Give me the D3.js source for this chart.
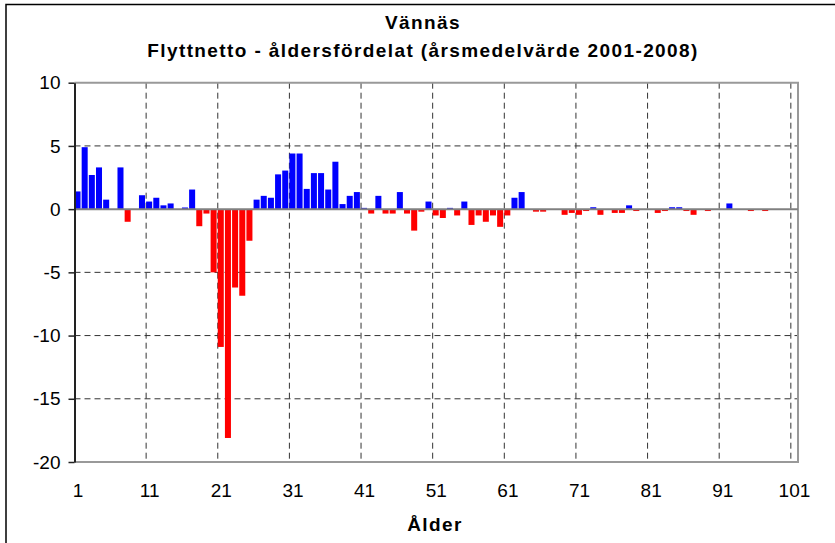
<!DOCTYPE html>
<html>
<head>
<meta charset="utf-8">
<script src="https://cdn.jsdelivr.net/npm/d3@7"></script>
<style>
  html, body { margin: 0; padding: 0; background: #fff; }
  svg { display: block; font-family: "Liberation Sans", Arial, sans-serif; }
</style>
</head>
<body>
<svg id="chart" width="835" height="543"></svg>
<script>
// ---- data ----
const titleLines = ["Vännäs", "Flyttnetto - åldersfördelat (årsmedelvärde 2001-2008)"];
const xTitle = "Ålder";
const ages = [1,2,3,4,5,6,7,8,9,10,11,12,13,14,15,16,17,18,19,20,
  21,22,23,24,25,26,27,28,29,30,31,32,33,34,35,36,37,38,39,40,
  41,42,43,44,45,46,47,48,49,50,51,52,53,54,55,56,57,58,59,60,
  61,62,63,64,65,66,67,68,69,70,71,72,73,74,75,76,77,78,79,80,
  81,82,83,84,85,86,87,88,89,90,91,92,93,94,95,96,97,98,99,100,101];
const netMigration = [1.4,4.9,2.7,3.3,0.75,0,3.3,-1.0,0,1.1,
  0.6,0.9,0.3,0.45,0,0.13,1.55,-1.35,-0.35,-5.0,
  -10.9,-18.1,-6.2,-6.85,-2.5,0.75,1.05,0.9,2.75,3.05,
  4.4,4.4,1.6,2.85,2.85,1.55,3.75,0.4,1.05,1.35,
  0.1,-0.35,1.05,-0.35,-0.35,1.35,-0.35,-1.7,-0.2,0.6,
  -0.5,-0.7,0.1,-0.5,0.6,-1.25,-0.5,-1.0,-0.5,-1.4,
  -0.5,0.9,1.35,0,-0.2,-0.2,0,0,-0.45,-0.3,
  -0.45,-0.15,0.15,-0.45,0,-0.3,-0.3,0.3,-0.15,0,
  0,-0.3,-0.15,0.15,0.15,-0.15,-0.45,0,-0.15,0,
  0,0.45,0,0,-0.15,0,-0.15,0,0,0,0];
const xTickAges = [1,11,21,31,41,51,61,71,81,91,101];
const gridAges = [11,21,31,41,51,61,71,81,91,101];
const yTicks = [-20,-15,-10,-5,0,5,10];
const yGrid = [-15,-10,-5,5];

// ---- layout ----
const plot = { left: 74.5, right: 798, top: 82.7, bottom: 462 };
const FONT = "'Liberation Sans', Arial, sans-serif";
const svg = d3.select("#chart");

// outer chart border
svg.append("rect")
  .attr("x", 6).attr("y", 4.5).attr("width", 840).attr("height", 560)
  .attr("fill", "none").attr("stroke", "#000").attr("stroke-width", 1.5);

const x = d3.scaleBand().domain(ages).range([plot.left, plot.right]).padding(0);
const y = d3.scaleLinear().domain([-20, 10]).range([plot.bottom, plot.top]);
const barW = x.bandwidth() * 0.84;

// gridlines
const g = svg.append("g");
g.selectAll("line.hg").data(yGrid).join("line")
  .attr("x1", plot.left).attr("x2", plot.right)
  .attr("y1", d => y(d)).attr("y2", d => y(d))
  .attr("stroke", "#333").attr("stroke-width", 1).attr("stroke-dasharray", "6,4");
g.selectAll("line.vg").data(gridAges).join("line")
  .attr("x1", d => x(d)).attr("x2", d => x(d))
  .attr("y1", plot.top).attr("y2", plot.bottom)
  .attr("stroke", "#333").attr("stroke-width", 1).attr("stroke-dasharray", "6,4");

// plot border (top, right, bottom)
svg.append("path")
  .attr("d", `M${plot.left},${plot.top}H${plot.right}V${plot.bottom}H${plot.left}`)
  .attr("fill", "none").attr("stroke", "#999").attr("stroke-width", 2);

// bars
svg.append("g").selectAll("rect").data(ages.map((a, i) => ({ a, v: netMigration[i] })).filter(d => d.v !== 0))
  .join("rect")
  .attr("x", d => x(d.a))
  .attr("width", barW)
  .attr("y", d => y(Math.max(0, d.v)))
  .attr("height", d => Math.abs(y(d.v) - y(0)))
  .attr("fill", d => d.v >= 0 ? "#0000ff" : "#ff0000");

// zero line
svg.append("line")
  .attr("x1", plot.left).attr("x2", plot.right)
  .attr("y1", y(0)).attr("y2", y(0))
  .attr("stroke", "#808080").attr("stroke-width", 2);

// y axis
const yAxis = d3.axisLeft(y).tickValues(yTicks).tickFormat(d => String(d))
  .tickSize(6).tickPadding(8).tickSizeOuter(0);
const ya = svg.append("g").attr("transform", `translate(${plot.left},0)`).call(yAxis);
ya.select(".domain").attr("stroke", "#222").attr("stroke-width", 2);
ya.selectAll(".tick line").attr("stroke", "#222").attr("stroke-width", 1.5);
ya.selectAll("text").attr("font-size", 19).attr("fill", "#000").attr("font-family", FONT);

// x tick labels
const xa = d3.axisBottom(x).tickValues(xTickAges).tickSize(0).tickPadding(22);
const xg = svg.append("g").attr("transform", `translate(0,${plot.bottom})`).call(xa);
xg.select(".domain").remove();
xg.selectAll("text").attr("font-size", 19).attr("fill", "#000").attr("font-family", FONT);

// titles
svg.selectAll("text.title").data(titleLines).join("text")
  .attr("class", "title")
  .attr("x", 423).attr("y", (d, i) => 29 + i * 27.5)
  .attr("text-anchor", "middle").attr("font-weight", "bold").attr("font-size", 19)
  .attr("letter-spacing", "1.4px")
  .text(d => d);

svg.append("text")
  .attr("x", 435).attr("y", 531)
  .attr("text-anchor", "middle").attr("font-weight", "bold").attr("font-size", 19)
  .attr("letter-spacing", "1.4px")
  .text(xTitle);
</script>
</body>
</html>
